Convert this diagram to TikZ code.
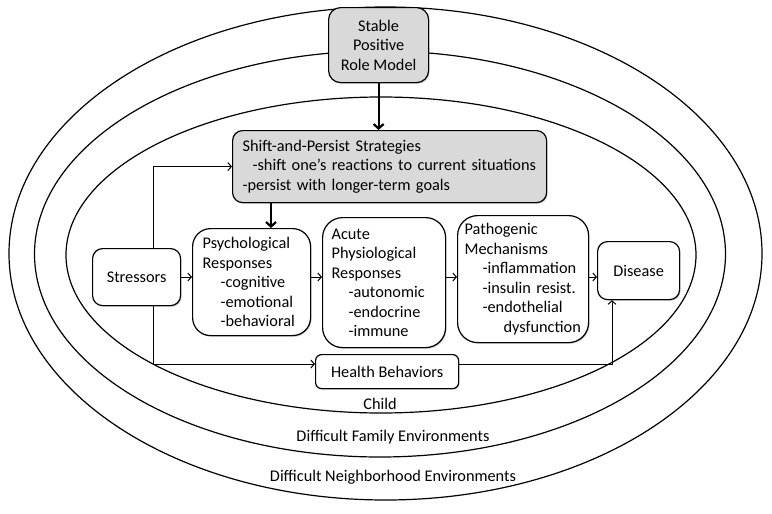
\documentclass[tikz,border=0pt]{standalone}
\usepackage{fontspec}
\setmainfont{Carlito}
\usetikzlibrary{arrows.meta,shadows}
\tikzset{
  ring/.style={line width=1.2pt},
  shad/.style={drop shadow={shadow xshift=1pt, shadow yshift=-1.2pt, opacity=0.35, fill=black!60}},
  box/.style={draw, line width=1.2pt, fill=white, shad, rounded corners=#1, anchor=north west, inner sep=0pt, align=center},
  box/.default=10pt,
  lbox/.style={draw, line width=1.2pt, fill=white, shad, rounded corners=#1, anchor=north west, inner ysep=0pt, align=left},
  lbox/.default=18pt,
  gray box/.style={fill=black!15},
  thin arrow/.style={line width=1pt, -{Straight Barb[length=3.5pt,width=8pt]}},
  thick arrow/.style={line width=2.2pt, -{Straight Barb[length=4.5pt,width=10pt]}},
  lbl/.style={inner sep=0pt}
}
\begin{document}
\begin{tikzpicture}[x=1pt,y=-1pt,font=\fontsize{16.3}{19.5}\selectfont]
\useasboundingbox (0,0) rectangle (772,514);
\fill[white] (0,0) rectangle (772,514);
% environment rings
\draw[ring] (385.5,253.5) ellipse [x radius=376.5, y radius=246.5];
\draw[ring] (380,254) ellipse [x radius=345.5, y radius=203];
\draw[ring] (381,255) ellipse [x radius=315, y radius=158];
% boxes
\node[box=12pt, gray box, minimum width=100pt, minimum height=75pt] (role) at (328,7) {Stable\\Positive\\Role Model};
\node[lbox=10pt, gray box, inner xsep=10pt, text width=294pt, minimum height=72pt] (shift) at (232,130)
  {Shift-and-Persist Strategies\\\hspace*{10pt}-shift one’s reactions to current situations\\-persist with longer-term goals};
\node[box=10pt, minimum width=88pt, minimum height=57pt] (stress) at (92,248) {Stressors};
\node[lbox=18pt, inner xsep=10pt, text width=98pt, minimum height=107pt] (psych) at (192,228)
  {Psychological\\Responses\\\hspace*{18pt}-cognitive\\\hspace*{18pt}-emotional\\\hspace*{18pt}-behavioral};
\node[lbox=20pt, inner xsep=9pt, text width=105pt, minimum height=130pt] (acute) at (322,217)
  {Acute\\Physiological\\Responses\\\hspace*{17pt}-autonomic\\\hspace*{17pt}-endocrine\\\hspace*{17pt}-immune};
\node[lbox=20pt, inner xsep=7pt, text width=117pt, minimum height=127pt] (path) at (457,215)
  {Pathogenic\\Mechanisms\\\hspace*{18pt}-inflammation\\\hspace*{18pt}-insulin resist.\\\hspace*{18pt}-endothelial\\\hspace*{39pt}dysfunction};
\node[box=10pt, minimum width=82pt, minimum height=58pt] (disease) at (597,241) {Disease};
\node[box=6pt, minimum width=143pt, minimum height=34pt] (health) at (315,354) {Health Behaviors};
% ring labels
\node[lbl] (child) at (380,404) {Child};
\node[lbl] (family) at (393,437) {Difficult Family Environments};
\node[lbl] (neigh) at (393,477) {Difficult Neighborhood Environments};
% helper coordinates
\coordinate (sp) at (271,0);
\coordinate (sx) at (153,0);
\coordinate (hy) at (0,364);
\coordinate (dx) at (612,0);
\coordinate (my) at (0,277);
% connectors
\draw[thick arrow] (role.south) -- (role.south |- shift.north);
\draw[thick arrow] (shift.south -| sp) -- (psych.north -| sp);
\draw[thin arrow] (stress.east |- my) -- (psych.west |- my);
\draw[thin arrow] (psych.east |- my) -- (acute.west |- my);
\draw[thin arrow] (acute.east |- my) -- (path.west |- my);
\draw[thin arrow] (path.east |- my) -- (disease.west |- my);
\draw[thin arrow] (stress.north -| sx) |- (shift.west);
\draw[thin arrow] (stress.south -| sx) |- (health.west |- hy);
\draw[thin arrow] (health.east |- hy) -| (disease.south -| dx);
\end{tikzpicture}
\end{document}
